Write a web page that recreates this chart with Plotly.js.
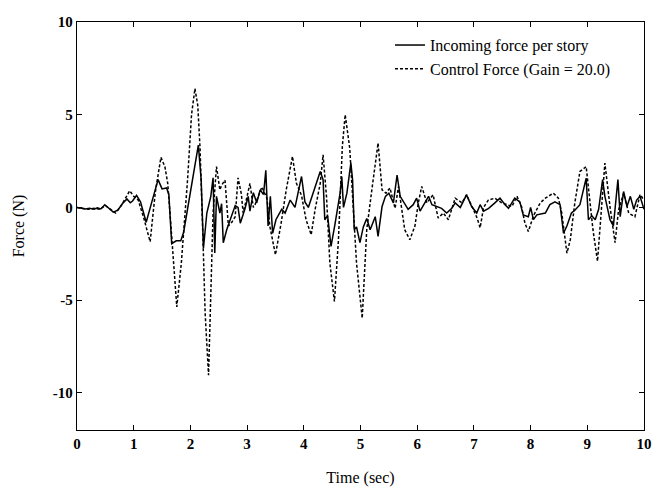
<!DOCTYPE html>
<html>
<head>
<meta charset="utf-8">
<script src="https://cdn.plot.ly/plotly-3.0.1.min.js"></script>
<style>html,body{margin:0;padding:0;background:#fff;}#chart{width:652px;height:487px;}</style>
</head>
<body>
<div id="chart"></div>
<script>
// Incoming force per story (solid)
var timeIncoming = [0.00,0.08,0.15,0.22,0.30,0.36,0.42,0.49,0.56,0.64,0.72,0.80,0.88,0.94,0.98,1.05,1.12,1.22,1.32,1.43,1.50,1.58,1.62,1.67,1.75,1.83,1.88,2.00,2.14,2.19,2.23,2.29,2.36,2.40,2.43,2.46,2.52,2.55,2.58,2.64,2.70,2.79,2.84,2.88,2.96,3.02,3.05,3.11,3.17,3.23,3.29,3.33,3.37,3.41,3.45,3.51,3.61,3.67,3.76,3.845,3.96,4.02,4.08,4.20,4.29,4.34,4.37,4.42,4.48,4.55,4.64,4.67,4.70,4.76,4.83,4.86,4.89,4.93,4.99,5.05,5.11,5.17,5.26,5.31,5.38,5.44,5.50,5.58,5.645,5.70,5.76,5.84,5.93,5.99,6.05,6.14,6.20,6.26,6.34,6.43,6.52,6.61,6.67,6.76,6.87,6.96,7.05,7.11,7.17,7.26,7.37,7.46,7.55,7.61,7.72,7.81,7.87,7.96,8.00,8.05,8.11,8.26,8.34,8.43,8.52,8.58,8.64,8.72,8.78,8.87,8.98,9.02,9.08,9.14,9.20,9.27,9.31,9.40,9.46,9.54,9.58,9.64,9.70,9.76,9.82,9.87,9.93,10.0];
var forceIncoming = [0.00,-0.05,-0.08,-0.05,-0.10,-0.02,-0.08,0.15,-0.05,-0.25,-0.15,0.20,0.46,0.25,0.35,0.65,0.30,-0.80,0.30,1.50,1.00,1.05,0.70,-1.95,-1.80,-1.80,-1.35,0.80,3.36,1.50,-2.20,-0.30,0.60,1.60,-2.45,0.60,-0.30,0.20,-1.90,-1.20,-0.65,0.10,0.00,-0.85,-0.10,0.60,-0.20,0.80,0.25,0.95,0.70,2.00,-1.00,0.60,-1.40,-0.65,-0.10,-0.30,0.40,0.00,1.67,0.30,0.00,1.13,1.94,1.50,-0.66,-0.45,-2.10,-0.90,0.77,1.67,0.00,0.77,2.40,1.50,-1.20,-1.05,-1.90,-1.05,-0.60,-1.20,-0.50,-1.56,0.05,0.60,0.77,0.25,1.75,0.60,0.30,-0.10,0.15,0.50,-0.20,0.25,0.60,0.15,0.05,-0.05,-0.30,-0.05,0.25,0.00,0.68,0.05,-0.30,0.15,-0.20,-0.05,0.25,0.50,0.15,-0.05,0.50,0.30,-0.40,-0.50,0.00,-0.66,-0.40,-0.30,0.15,0.30,0.15,-1.38,-1.00,-0.30,-0.15,0.15,1.58,-0.66,-0.45,-0.66,-0.10,1.50,0.60,-0.66,-1.00,1.50,-0.50,0.86,0.05,0.60,-0.10,0.40,0.60,-0.10];

// Control force, gain = 20.0 (dashed)
var timeControl = [0.00,0.10,0.20,0.30,0.40,0.50,0.58,0.68,0.78,0.88,0.93,1.00,1.08,1.18,1.29,1.38,1.48,1.55,1.60,1.64,1.70,1.76,1.84,1.95,2.02,2.08,2.13,2.17,2.22,2.26,2.32,2.36,2.40,2.46,2.52,2.55,2.61,2.67,2.73,2.79,2.84,2.90,2.93,3.00,3.05,3.11,3.14,3.26,3.35,3.40,3.50,3.60,3.69,3.80,3.87,3.96,4.04,4.13,4.20,4.29,4.34,4.40,4.46,4.54,4.61,4.68,4.73,4.81,4.87,4.93,5.03,5.11,5.20,5.31,5.38,5.45,5.52,5.61,5.67,5.73,5.78,5.87,5.96,6.02,6.08,6.17,6.28,6.37,6.46,6.55,6.67,6.79,6.87,6.99,7.06,7.11,7.17,7.255,7.37,7.49,7.67,7.76,7.84,7.90,7.96,8.05,8.17,8.26,8.40,8.49,8.55,8.64,8.70,8.78,8.87,8.98,9.04,9.10,9.18,9.25,9.31,9.40,9.49,9.55,9.64,9.73,9.84,9.93,10.0];
var forceControl = [0.00,-0.05,-0.10,-0.05,-0.10,0.10,-0.10,-0.30,0.10,0.65,0.90,0.60,0.40,-0.60,-1.85,0.80,2.70,2.20,1.30,-0.30,-3.00,-5.36,-3.00,1.50,5.00,6.41,5.50,3.20,-1.50,-5.70,-9.04,-5.00,-0.30,2.20,0.95,1.20,1.47,-1.00,-0.80,-0.50,1.60,0.70,-0.30,0.60,1.30,0.00,0.15,1.10,0.50,-1.00,-2.55,-0.85,0.95,2.75,1.30,0.65,-0.66,-1.47,-0.10,1.30,2.84,0.60,-3.00,-5.07,-1.80,3.30,5.00,3.20,0.00,-3.00,-5.97,-1.20,0.95,3.47,0.95,0.77,1.05,-0.05,1.13,-0.30,-1.20,-1.74,-1.00,0.25,1.13,0.25,0.68,-0.57,-0.30,-0.66,0.50,0.25,0.68,-0.10,-0.60,-1.10,0.00,0.40,0.50,0.25,0.05,0.60,0.05,-0.85,-1.30,-0.45,0.25,0.50,0.77,0.50,-0.30,-2.46,-1.75,0.25,1.94,2.20,0.60,-1.20,-2.90,0.05,2.39,0.05,-1.90,-0.15,0.77,-0.30,-0.50,0.70,0.40];

var xTicks = [0,1,2,3,4,5,6,7,8,9,10];
var yTicks = [-10,-5,0,5,10];

var fontFam = 'Liberation Serif, Times New Roman, serif';

var traces = [
  {x: timeIncoming, y: forceIncoming, mode: 'lines', name: 'Incoming force per story',
   line: {color: '#000', width: 1.5}},
  {x: timeControl, y: forceControl, mode: 'lines', name: 'Control Force (Gain = 20.0)',
   line: {color: '#000', width: 1.5, dash: '3px,2px'}}
];

var axisCommon = {
  showline: true, mirror: 'ticks', linecolor: '#000', linewidth: 1.2,
  ticks: 'inside', ticklen: 5, tickcolor: '#000', tickwidth: 1,
  showgrid: false, zeroline: false,
  tickfont: {family: fontFam, size: 15, color: '#000', weight: 'bold'}
};

var layout = {
  width: 652, height: 487,
  margin: {l: 77, r: 8, t: 22, b: 57},
  paper_bgcolor: '#fff', plot_bgcolor: '#fff',
  showlegend: true,
  legend: {x: 0.552, y: 0.985, xanchor: 'left', yanchor: 'top', bgcolor: 'rgba(0,0,0,0)',
           font: {family: fontFam, size: 16, color: '#000'}, itemwidth: 30, tracegroupgap: 0},
  xaxis: Object.assign({}, axisCommon, {
    range: [0, 10], tickvals: xTicks, ticktext: xTicks.map(String),
    title: {text: 'Time (sec)', font: {family: fontFam, size: 16, color: '#000'}, standoff: 20}
  }),
  yaxis: Object.assign({}, axisCommon, {
    range: [-12, 10], tickvals: yTicks, ticktext: yTicks.map(String),
    title: {text: 'Force (N)', font: {family: fontFam, size: 16, color: '#000'}, standoff: 24}
  })
};

Plotly.newPlot('chart', traces, layout, {staticPlot: true, displayModeBar: false});
</script>
</body>
</html>
